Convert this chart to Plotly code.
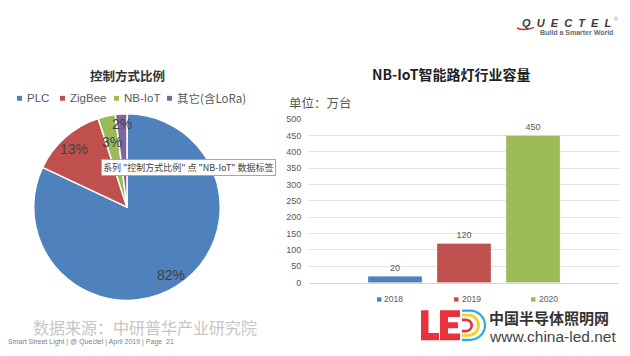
import numpy as np
import plotly.graph_objects as go

W, H = 630, 356

# ---------------- data ----------------
pie_title = "控制方式比例"
pie_labels = ["PLC", "ZigBee", "NB-IoT", "其它(含LoRa)"]
pie_values = [82, 13, 3, 2]

bar_title = "NB-IoT智能路灯行业容量"
bar_unit = "单位：万台"
bar_years = ["2018", "2019", "2020"]
bar_values = [20, 120, 450]
bar_category = ["NB-IoT"]
y_min, y_max, y_step = 0, 500, 50

tooltip_text = '系列 "控制方式比例" 点 "NB-IoT" 数据标签'
source_text = "数据来源：中研普华产业研究院"
footer_text = "Smart Street Light | @ Quectel | April 2019 | Page\u00a0\u00a021"
site_name = "中国半导体照明网"
site_url = "www.china-led.net"

# ---------------- styles / layout ----------------
pie_colors = ["#4F81BD", "#C0504D", "#9BBB59", "#8064A2"]
bar_colors = ["#4F81BD", "#C0504D", "#9BBB59"]
pie_label_r = [0.86, 0.835, 0.72, 0.89]
pie_legend_x = [17, 60, 114, 167]
bar_legend_x = [377, 454, 531]

PIE_CX, PIE_CY, PIE_R = 127, 208, 96
PLOT_L, PLOT_R, PLOT_T, PLOT_B = 309, 619, 117.3, 285.7

LATIN = "Liberation Sans, Arial, sans-serif"
CJK = "Noto Sans CJK SC, Liberation Sans, sans-serif"
GREY = "#595959"


def px(x):
    return x / W


def py(y):
    return 1 - y / H


fig = go.Figure()

fig.add_trace(go.Pie(
    labels=pie_labels, values=pie_values, sort=False, direction="clockwise",
    rotation=0, textinfo="none", hoverinfo="label+percent",
    marker=dict(colors=pie_colors, line=dict(color="white", width=1.5)),
    domain=dict(x=[px(PIE_CX - PIE_R), px(PIE_CX + PIE_R)],
                y=[py(PIE_CY + PIE_R), py(PIE_CY - PIE_R)]),
    showlegend=False,
))

for yr, val, col in zip(bar_years, bar_values, bar_colors):
    fig.add_trace(go.Bar(
        x=bar_category, y=[val], name=yr,
        marker=dict(color=col, line=dict(color="rgba(255,255,255,0.6)", width=0.5)),
        texttemplate="%{y}", textposition="outside",
        textfont=dict(family=LATIN, size=9, color=GREY),
        cliponaxis=False, showlegend=False,
    ))

annotations = []
shapes = []

# pie labels computed from data
total = float(sum(pie_values))
cum = np.concatenate([[0], np.cumsum(pie_values)])
for i, v in enumerate(pie_values):
    mid = (cum[i] + cum[i + 1]) / 2 / total * 2 * np.pi
    f = pie_label_r[i]
    lx = PIE_CX + f * PIE_R * np.sin(mid)
    ly = PIE_CY - f * PIE_R * np.cos(mid)
    annotations.append(dict(
        x=px(lx), y=py(ly), xref="paper", yref="paper", showarrow=False,
        text=f"{round(v / total * 100)}%",
        font=dict(family=LATIN, size=14, color="#404040"),
        xanchor="center", yanchor="middle"))

# pie title
annotations.append(dict(x=px(127), y=py(73), xref="paper", yref="paper", showarrow=False,
                        text=f"<b>{pie_title}</b>", font=dict(family=CJK, size=12.5, color="#333333"),
                        xanchor="center", yanchor="middle"))
# pie legend
for lab, col, lx in zip(pie_labels, pie_colors, pie_legend_x):
    shapes.append(dict(type="rect", xref="paper", yref="paper",
                       x0=px(lx), x1=px(lx + 5), y0=py(98.5), y1=py(93.5),
                       fillcolor=col, line=dict(width=0)))
    annotations.append(dict(x=px(lx + 7.5), y=py(96), xref="paper", yref="paper", showarrow=False,
                            text=lab, font=dict(family=CJK if not lab.isascii() else LATIN, size=11.5, color=GREY),
                            xanchor="left", yanchor="middle"))

# tooltip box
annotations.append(dict(x=px(101), y=py(167), xref="paper", yref="paper", showarrow=False,
                        text=tooltip_text, font=dict(family=CJK, size=9, color="#404040"),
                        bgcolor="white", bordercolor="#A6A6A6", borderwidth=1, borderpad=1,
                        xanchor="left", yanchor="middle"))

# bar titles
annotations.append(dict(x=px(451), y=py(71), xref="paper", yref="paper", showarrow=False,
                        text=f"<b>{bar_title}</b>", font=dict(family=CJK, size=14, color="#1F1F1F"),
                        xanchor="center", yanchor="middle"))
annotations.append(dict(x=px(287), y=py(100), xref="paper", yref="paper", showarrow=False,
                        text=bar_unit, font=dict(family=CJK, size=12.5, color=GREY),
                        xanchor="left", yanchor="middle"))
# bar legend
for yr, col, lx in zip(bar_years, bar_colors, bar_legend_x):
    shapes.append(dict(type="rect", xref="paper", yref="paper",
                       x0=px(lx), x1=px(lx + 4.5), y0=py(305.2), y1=py(300.7),
                       fillcolor=col, line=dict(width=0)))
    annotations.append(dict(x=px(lx + 5.5), y=py(303), xref="paper", yref="paper", showarrow=False,
                            text=yr, font=dict(family=LATIN, size=8.5, color=GREY),
                            xanchor="left", yanchor="middle"))

# source & footer
annotations.append(dict(x=px(31), y=py(331), xref="paper", yref="paper", showarrow=False,
                        text=source_text, font=dict(family=CJK, size=16, color="#C6C6C6"),
                        xanchor="left", yanchor="middle"))
annotations.append(dict(x=px(6), y=py(347), xref="paper", yref="paper", showarrow=False,
                        text=footer_text, font=dict(family=LATIN, size=7, color="#7F7F7F"),
                        xanchor="left", yanchor="middle"))

# QUECTEL logo
annotations.append(dict(x=px(520), y=py(19), xref="paper", yref="paper", showarrow=False,
                        text="<b><i>" + "\u00a0\u00a0".join("QUECTEL") + "</i></b>",
                        font=dict(family=LATIN, size=11, color="#3A3A3A"),
                        xanchor="left", yanchor="middle"))
annotations.append(dict(x=px(612), y=py(14), xref="paper", yref="paper", showarrow=False,
                        text="®", font=dict(family=LATIN, size=5, color="#888888"),
                        xanchor="left", yanchor="middle"))
annotations.append(dict(x=px(538), y=py(28.5), xref="paper", yref="paper", showarrow=False,
                        text="<b>Build a Smarter World</b>", font=dict(family=LATIN, size=7, color="#6A6A6A"),
                        xanchor="left", yanchor="middle"))


def pth(cmds):
    out = []
    for cmd, pts in cmds:
        if cmd == "Z":
            out.append("Z")
        else:
            out.append(cmd + " " + " ".join(f"{px(a):.5f},{py(b):.5f}" for a, b in pts))
    return " ".join(out)


def poly(points):
    cmds = [("M", [points[0]])] + [("L", [p]) for p in points[1:]] + [("Z", [])]
    return pth(cmds)


# red swoosh under Q
shapes.append(dict(type="path", xref="paper", yref="paper",
                   path=pth([("M", [(517, 23.5)]), ("C", [(522, 26.5), (528, 25.5), (534, 23)])]),
                   line=dict(color="#D7282F", width=1.5)))

# LED logo
RED = "#E8333F"
shapes.append(dict(type="path", xref="paper", yref="paper",
                   path=poly([(421, 314), (428.5, 314), (428.5, 337.5), (439, 337.5), (439, 345), (421, 345)]),
                   fillcolor=RED, line=dict(width=0)))
shapes.append(dict(type="path", xref="paper", yref="paper",
                   path=poly([(440, 314), (460, 314), (460, 321), (448, 321), (448, 326.5), (458, 326.5),
                              (458, 332.5), (448, 332.5), (448, 338), (460, 338), (460, 345), (440, 345)]),
                   fillcolor=RED, line=dict(width=0)))


def dshape(x0, ytop, ybot, r_ext):
    yc = (ytop + ybot) / 2
    r = (ybot - ytop) / 2
    xa = x0 + r_ext
    k = 0.5523 * r
    return pth([("M", [(x0, ytop)]), ("L", [(xa, ytop)]),
                ("C", [(xa + k, ytop), (xa + r, yc - k), (xa + r, yc)]),
                ("C", [(xa + r, yc + k), (xa + k, ybot), (xa, ybot)]),
                ("L", [(x0, ybot)])])


shapes.append(dict(type="path", xref="paper", yref="paper", path=dshape(462, 314.5, 344.5, 8),
                   line=dict(color="#2EA8E0", width=2.2)))
shapes.append(dict(type="path", xref="paper", yref="paper", path=dshape(462, 319, 340, 6),
                   line=dict(color="#F5CF1A", width=2.6)))
shapes.append(dict(type="path", xref="paper", yref="paper", path=dshape(462, 324, 335.5, 4),
                   line=dict(color=RED, width=2.6)))

annotations.append(dict(x=px(487), y=py(322), xref="paper", yref="paper", showarrow=False,
                        text=f"<b>{site_name}</b>", font=dict(family=CJK, size=15, color="#333333"),
                        xanchor="left", yanchor="middle"))
annotations.append(dict(x=px(487), y=py(341.5), xref="paper", yref="paper", showarrow=False,
                        text=site_url, font=dict(family=LATIN, size=15.5, color="#444444"),
                        xanchor="left", yanchor="middle"))

fig.update_layout(
    width=W, height=H, margin=dict(l=0, r=0, t=0, b=0),
    paper_bgcolor="white", plot_bgcolor="white",
    barmode="group", bargap=0.332, bargroupgap=0.217,
    xaxis=dict(domain=[px(PLOT_L), px(PLOT_R)], range=[-0.5, 0.5], showticklabels=False,
               showgrid=False, zeroline=False, showline=True, linecolor="#D9D9D9", linewidth=1,
               ticks="", fixedrange=True),
    yaxis=dict(domain=[py(PLOT_B), py(PLOT_T)], range=[y_min, y_max], dtick=y_step, tick0=0,
               showgrid=True, gridcolor="#E3E3E3", gridwidth=1, zeroline=False, showline=False,
               ticks="outside", ticklen=5, tickcolor="rgba(0,0,0,0)",
               tickfont=dict(family=LATIN, size=9, color=GREY), fixedrange=True),
    annotations=annotations, shapes=shapes,
    showlegend=False,
)

fig.write_html("out.html", config={"displayModeBar": False},
               post_script="document.body.style.margin='0';document.body.style.overflow='hidden';")
